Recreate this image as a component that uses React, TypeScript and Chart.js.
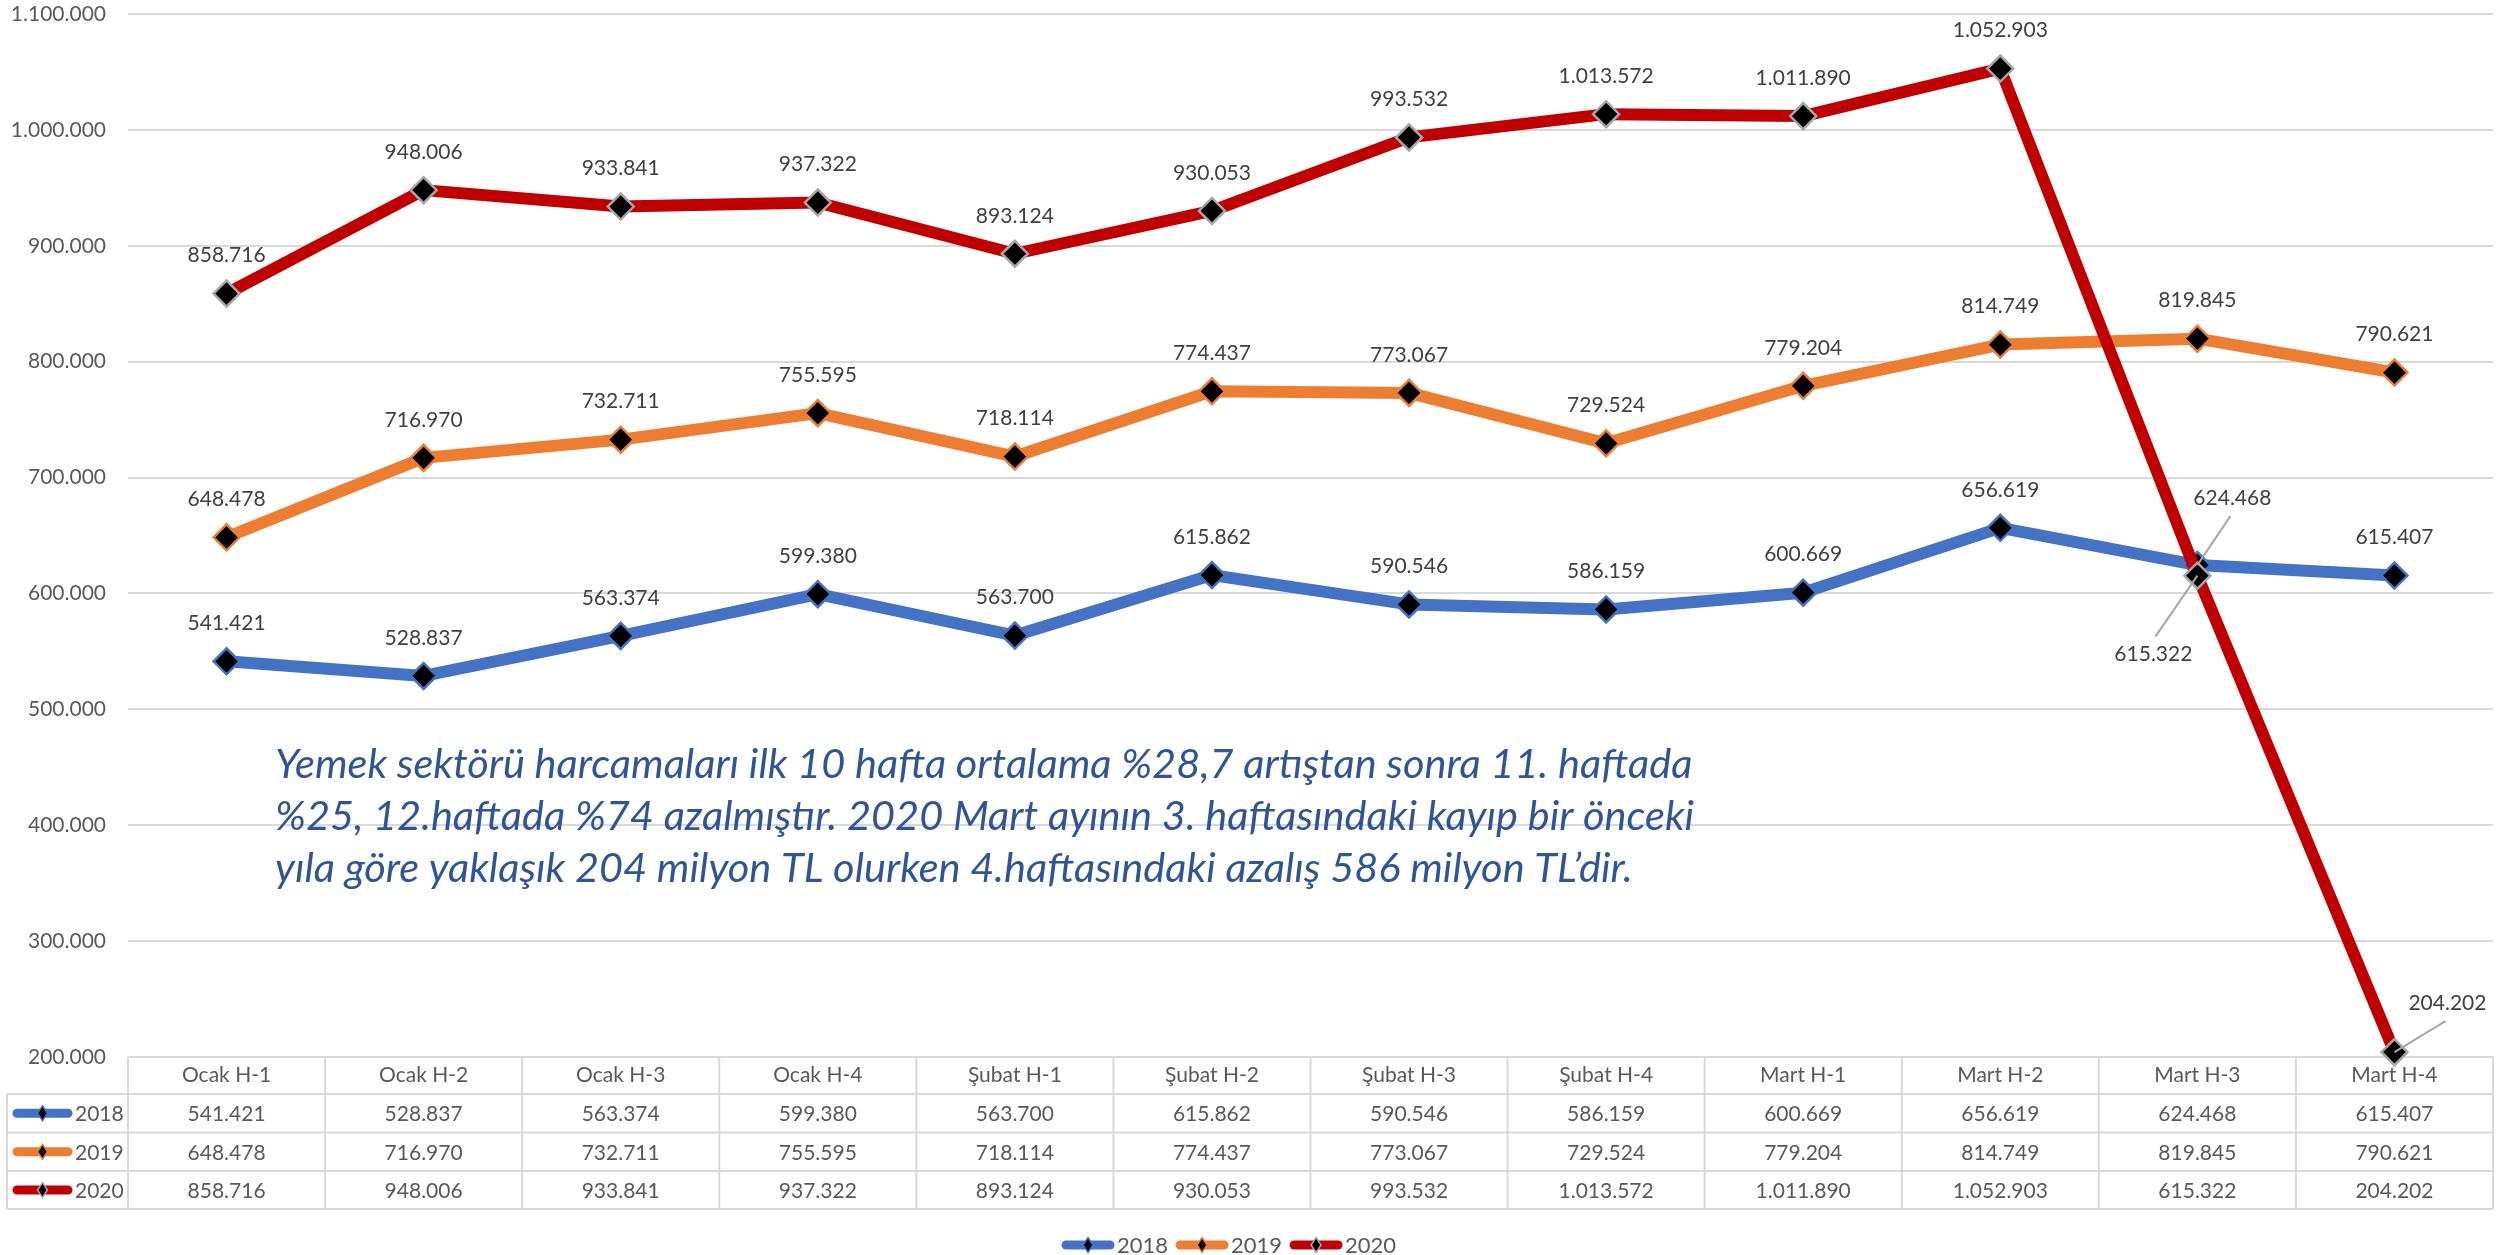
import React, { useEffect, useRef } from 'react';
import { Chart, registerables } from 'chart.js';

Chart.register(...registerables);

// ---------- data ----------
const categories = [
  'Ocak H-1', 'Ocak H-2', 'Ocak H-3', 'Ocak H-4',
  'Şubat H-1', 'Şubat H-2', 'Şubat H-3', 'Şubat H-4',
  'Mart H-1', 'Mart H-2', 'Mart H-3', 'Mart H-4',
];
const seriesNames = ['2018', '2019', '2020'];
const values2018 = [541421, 528837, 563374, 599380, 563700, 615862, 590546, 586159, 600669, 656619, 624468, 615407];
const values2019 = [648478, 716970, 732711, 755595, 718114, 774437, 773067, 729524, 779204, 814749, 819845, 790621];
const values2020 = [858716, 948006, 933841, 937322, 893124, 930053, 993532, 1013572, 1011890, 1052903, 615322, 204202];
const yMin = 200000;
const yMax = 1100000;
const yStep = 100000;
const noteLines = [
  'Yemek sektörü harcamaları ilk 10 hafta ortalama %28,7 artıştan sonra 11. haftada',
  '%25, 12.haftada %74 azalmıştır. 2020 Mart ayının 3. haftasındaki kayıp bir önceki',
  'yıla göre yaklaşık 204 milyon TL olurken 4.haftasındaki azalış 586 milyon TL’dir.',
];

// ---------- styles ----------
const FONT = 'Lato, "Open Sans", sans-serif';
const lineColors = ['#4472C4', '#ED7D31', '#C00000'];
const markerBorders = ['#4472C4', '#ED7D31', '#A6A6A6'];
const GRID = '#D9D9D9';
const TEXT = '#595959';
const LABEL = '#404040';
// special label offsets (dataset-index) -> [dx, dy] from point
const labelOffsets: Record<string, [number, number]> = {
  '0-10': [35, -67],
  '2-10': [-44, 79],
  '2-11': [53, -49],
};

const fmt = (n: number) => String(Math.round(n)).replace(/\B(?=(\d{3})+(?!\d))/g, '.');

function drawDiamond(ctx: CanvasRenderingContext2D, x: number, y: number, rx: number, ry: number, fill: string, stroke: string, lw: number) {
  ctx.beginPath();
  ctx.moveTo(x, y - ry);
  ctx.lineTo(x + rx, y);
  ctx.lineTo(x, y + ry);
  ctx.lineTo(x - rx, y);
  ctx.closePath();
  ctx.fillStyle = fill;
  ctx.fill();
  ctx.lineWidth = lw;
  ctx.strokeStyle = stroke;
  ctx.stroke();
}

function drawKey(ctx: CanvasRenderingContext2D, x1: number, x2: number, y: number, i: number) {
  ctx.save();
  ctx.beginPath();
  ctx.lineCap = 'round';
  ctx.lineWidth = 9;
  ctx.strokeStyle = lineColors[i];
  ctx.moveTo(x1 + 4, y);
  ctx.lineTo(x2 - 4, y);
  ctx.stroke();
  drawDiamond(ctx, (x1 + x2) / 2, y, 5, 7.5, '#000', markerBorders[i], 1.5);
  ctx.restore();
}

const tablePlugin = {
  id: 'dataTable',
  beforeDatasetsDraw(chart: any) {
    const { ctx, chartArea, scales } = chart;
    const x = scales.x;
    const left = chartArea.left;
    const right = chartArea.right;
    const top = chartArea.bottom;
    const tableLeft = 7;
    const rows = [top, top + 37, top + 75.5, top + 114, top + 152];
    const colW = (right - left) / categories.length;
    const all = [values2018, values2019, values2020];
    ctx.save();
    ctx.strokeStyle = GRID;
    ctx.lineWidth = 2;
    ctx.beginPath();
    ctx.moveTo(left, rows[0]);
    ctx.lineTo(right, rows[0]);
    for (let r = 1; r < rows.length; r++) {
      ctx.moveTo(tableLeft, rows[r]);
      ctx.lineTo(right, rows[r]);
    }
    ctx.moveTo(tableLeft, rows[1]);
    ctx.lineTo(tableLeft, rows[4]);
    for (let k = 0; k <= categories.length; k++) {
      const xx = left + colW * k;
      ctx.moveTo(xx, rows[0]);
      ctx.lineTo(xx, rows[4]);
    }
    ctx.stroke();

    ctx.font = `21px ${FONT}`;
    ctx.textBaseline = 'middle';
    for (let s = 0; s < 3; s++) {
      const cy = (rows[s + 1] + rows[s + 2]) / 2;
      drawKey(ctx, 13, 72, cy, s);
      ctx.fillStyle = TEXT;
      ctx.textAlign = 'left';
      ctx.fillText(seriesNames[s], 75, cy + 1);
      ctx.textAlign = 'center';
      all[s].forEach((v, i) => {
        ctx.fillText(fmt(v), x.getPixelForValue(i), cy + 1);
      });
    }

    // bottom legend
    let lx = 1062;
    const ly = 1245;
    ctx.font = `22px ${FONT}`;
    for (let s = 0; s < 3; s++) {
      drawKey(ctx, lx, lx + 52, ly, s);
      ctx.fillStyle = TEXT;
      ctx.textAlign = 'left';
      ctx.fillText(seriesNames[s], lx + 55, ly + 1);
      lx += 55 + ctx.measureText(seriesNames[s]).width + 8;
    }
    ctx.restore();
  },
  afterDatasetsDraw(chart: any) {
    const { ctx } = chart;
    ctx.save();
    ctx.font = `21px ${FONT}`;
    ctx.textAlign = 'center';
    ctx.textBaseline = 'middle';
    chart.data.datasets.forEach((ds: any, di: number) => {
      const meta = chart.getDatasetMeta(di);
      meta.data.forEach((pt: any, i: number) => {
        const key = `${di}-${i}`;
        const off = labelOffsets[key];
        const px = pt.x;
        const py = pt.y;
        let lx = px;
        let ly = py - 38;
        if (off) {
          lx = px + off[0];
          ly = py + off[1];
          const dir = off[1] < 0 ? 1 : -1;
          ctx.beginPath();
          ctx.strokeStyle = '#A6A6A6';
          ctx.lineWidth = 2;
          ctx.moveTo(lx - (off[0] > 0 ? 2 : -2), ly + dir * 18);
          ctx.lineTo(px, py);
          ctx.stroke();
        }
        ctx.fillStyle = LABEL;
        ctx.fillText(fmt(ds.data[i]), lx, ly);
      });
    });

    // annotation
    ctx.font = `italic 41.5px ${FONT}`;
    ctx.textAlign = 'left';
    ctx.fillStyle = '#2F5597';
    noteLines.forEach((t, k) => {
      ctx.fillText(t, 275, 765 + k * 52);
    });
    ctx.restore();
  },
};

export default function App() {
  const ref = useRef<HTMLCanvasElement | null>(null);
  useEffect(() => {
    if (!ref.current) return;
    const mk = (label: string, data: number[], i: number, order: number) => ({
      label,
      data,
      borderColor: lineColors[i],
      backgroundColor: lineColors[i],
      borderWidth: 12,
      borderJoinStyle: 'round' as const,
      borderCapStyle: 'round' as const,
      pointStyle: 'rectRot' as const,
      pointRadius: 13,
      pointBorderWidth: 2.5,
      pointBackgroundColor: '#000000',
      pointBorderColor: markerBorders[i],
      tension: 0,
      clip: false as any,
      order,
    });
    const chart = new Chart(ref.current, {
      type: 'line',
      data: {
        labels: categories,
        datasets: [
          mk(seriesNames[0], values2018, 0, 3),
          mk(seriesNames[1], values2019, 1, 2),
          mk(seriesNames[2], values2020, 2, 1),
        ],
      },
      plugins: [tablePlugin],
      options: {
        responsive: false,
        animation: false,
        events: [],
        layout: { autoPadding: false, padding: { top: 14, right: 3, left: 0, bottom: 0 } },
        plugins: {
          legend: { display: false },
          tooltip: { enabled: false },
          title: { display: false },
        },
        scales: {
          x: {
            offset: true,
            grid: { display: false, drawTicks: false },
            border: { display: false },
            ticks: {
              autoSkip: false,
              maxRotation: 0,
              minRotation: 0,
              padding: 6,
              color: TEXT,
              font: { family: FONT, size: 21 },
            },
            afterFit: (s: any) => { s.height = 198; s.paddingLeft = 0; s.paddingRight = 0; },
          },
          y: {
            min: yMin,
            max: yMax,
            grid: { color: GRID, lineWidth: 2, drawTicks: false },
            border: { display: false },
            ticks: {
              stepSize: yStep,
              padding: 22,
              color: TEXT,
              font: { family: FONT, size: 21 },
              callback: (v: any) => fmt(Number(v)),
            },
            afterFit: (s: any) => { s.width = 128; s.paddingTop = 0; s.paddingBottom = 0; },
          },
        },
      },
    });
    return () => chart.destroy();
  }, []);
  return (
    <div style={{ position: 'fixed', left: 0, top: 0, width: 2496, height: 1255, background: '#fff' }}>
      <canvas ref={ref} width={2496} height={1255} />
    </div>
  );
}
